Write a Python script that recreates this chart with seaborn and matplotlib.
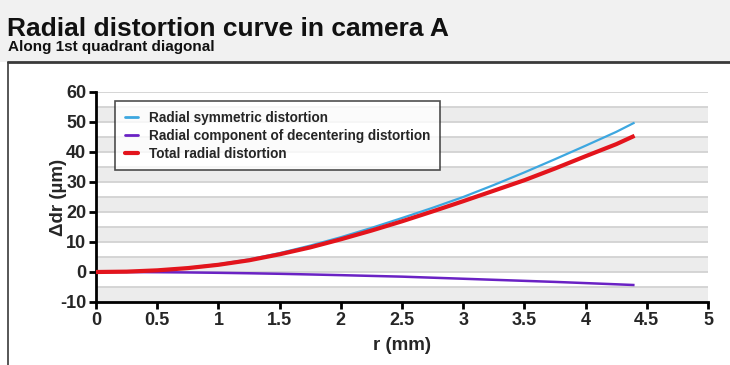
import numpy as np
import pandas as pd
import matplotlib
matplotlib.use("Agg")
import matplotlib.pyplot as plt
import seaborn as sns
from matplotlib.patches import Rectangle
from matplotlib.lines import Line2D

# ---- data ----
r_mm = [0, 0.25, 0.5, 0.75, 1.0, 1.25, 1.5, 1.75, 2.0, 2.25, 2.5, 2.75,
        3.0, 3.25, 3.5, 3.75, 4.0, 4.25, 4.4]
radial_symmetric = [0, 0.15, 0.6, 1.4, 2.6, 4.2, 6.3, 8.8, 11.6, 14.7, 18.0,
                    21.4, 25.0, 29.0, 33.2, 37.6, 42.1, 46.7, 49.8]
radial_decentering = [0, -0.02, -0.07, -0.15, -0.27, -0.42, -0.6, -0.82, -1.05,
                      -1.3, -1.55, -1.9, -2.25, -2.6, -2.95, -3.3, -3.7, -4.1, -4.35]
total_radial = [0, 0.12, 0.55, 1.3, 2.4, 3.9, 5.9, 8.2, 10.9, 13.8, 16.9,
                20.2, 23.6, 27.1, 30.6, 34.5, 38.6, 42.6, 45.4]
series_names = ["Radial symmetric distortion",
                "Radial component of decentering distortion",
                "Total radial distortion"]
series_colors = ["#3da7e0", "#6a22c4", "#e3141c"]
series_widths = [1.6, 1.8, 3.0]
x_ticks = [0, 0.5, 1, 1.5, 2, 2.5, 3, 3.5, 4, 4.5, 5]
x_tick_labels = ["0", "0.5", "1", "1.5", "2", "2.5", "3", "3.5", "4", "4.5", "5"]
y_ticks = [-10, 0, 10, 20, 30, 40, 50, 60]
y_tick_labels = ["-10", "0", "10", "20", "30", "40", "50", "60"]

df = pd.DataFrame({
    "r": r_mm * 3,
    "val": radial_symmetric + radial_decentering + total_radial,
    "series": sum([[n] * len(r_mm) for n in series_names], []),
})

sns.set_theme(style="white")
plt.rcParams["font.family"] = ["Liberation Sans", "DejaVu Sans"]
plt.rcParams["axes.unicode_minus"] = False

fig = plt.figure(figsize=(7.3, 3.65), dpi=100)
fig.patch.set_facecolor("white")

# header band and panel frame
fig.add_artist(Rectangle((0, 1 - 62 / 365), 1, 62 / 365, transform=fig.transFigure,
                         facecolor="#f1f1f1", edgecolor="none", zorder=0))
fig.add_artist(Line2D([8 / 730, 1], [1 - 62 / 365] * 2, transform=fig.transFigure,
                      color="#3a3a3a", lw=2.0))
fig.add_artist(Line2D([8 / 730] * 2, [0, 1 - 62 / 365], transform=fig.transFigure,
                      color="#3a3a3a", lw=1.2))
fig.text(7 / 730, 1 - 36 / 365, "Radial distortion curve in camera A",
         fontsize=19, fontweight="bold", color="#111111", ha="left", va="baseline")
fig.text(8 / 730, 1 - 51 / 365, "Along 1st quadrant diagonal",
         fontsize=11, fontweight="bold", color="#111111", ha="left", va="baseline")

ax = fig.add_axes([96 / 730, 1 - 302 / 365, (708 - 96) / 730, (302 - 92) / 365])
ax.set_facecolor("white")

# alternating bands + grid lines
for lo in range(-10, 60, 10):
    ax.axhspan(lo, lo + 5, color="#ececec", lw=0, zorder=0)
for yv in range(-5, 61, 5):
    ax.axhline(yv, color="#d2d2d2", lw=1.3, zorder=0.5)

sns.lineplot(data=df, x="r", y="val", hue="series", hue_order=series_names,
             palette=series_colors, ax=ax, legend=False, zorder=3)
for line, w in zip(ax.get_lines()[-3:], series_widths):
    line.set_linewidth(w)
    line.set_solid_capstyle("butt")

ax.set_xlim(0, 5)
ax.set_ylim(-10, 60)
ax.set_xticks(x_ticks)
ax.set_xticklabels(x_tick_labels)
ax.set_yticks(y_ticks)
ax.set_yticklabels(y_tick_labels)
for s in ["top", "right"]:
    ax.spines[s].set_visible(False)
for s in ["left", "bottom"]:
    ax.spines[s].set_color("black")
    ax.spines[s].set_linewidth(2)
ax.tick_params(axis="both", direction="out", length=5, width=2, color="black",
               labelsize=13, pad=2, left=True, bottom=True)
for lab in ax.get_xticklabels() + ax.get_yticklabels():
    lab.set_fontweight("bold")
ax.set_xlabel("r (mm)", fontsize=13.5, fontweight="bold", labelpad=6)
ax.set_ylabel("Δdr (µm)", fontsize=13.5, fontweight="bold", labelpad=-5)

handles = [Line2D([], [], color=c, lw=w) for c, w in zip(series_colors, [2, 2, 3])]
leg = ax.legend(handles, series_names, loc="upper left",
                bbox_to_anchor=((115 - 96) / 612, (302 - 101) / 210),
                borderaxespad=0, frameon=True, fancybox=False,
                prop={"size": 9.8, "weight": "bold"}, handlelength=1.0,
                handletextpad=0.8, labelspacing=0.3, borderpad=0.7)
leg.get_frame().set_edgecolor("#222222")
leg.get_frame().set_linewidth(1.2)
leg.set_zorder(5)

fig.savefig("out.png", dpi=100)
